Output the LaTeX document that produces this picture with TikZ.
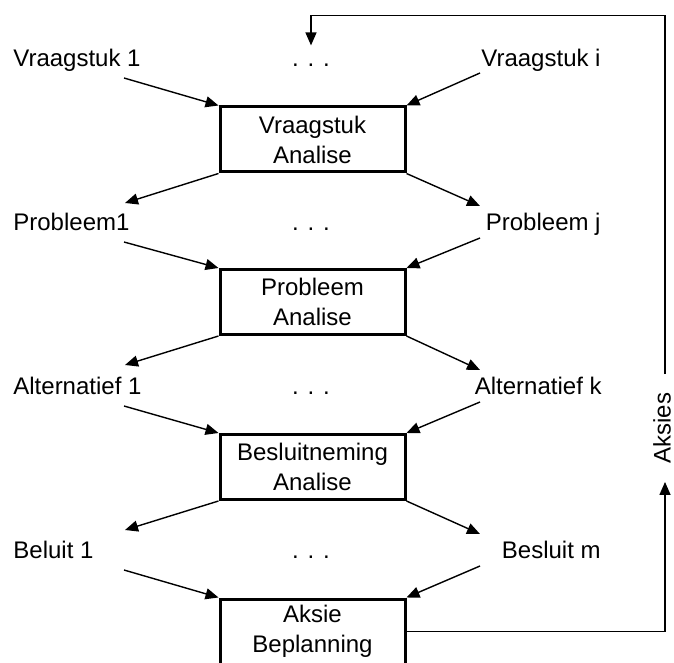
\documentclass[tikz,border=0pt]{standalone}
\usepackage{fontspec}
\setmainfont{Liberation Sans}
\usepackage{tikz}
\usetikzlibrary{arrows.meta, positioning, calc}
\tikzset{
  stage/.style={rectangle, draw=black, fill=white, line width=1.5pt,
    minimum width=92.5pt, minimum height=32.5pt, align=center,
    inner sep=0pt, font=\fontsize{12}{15}\selectfont},
  lbl/.style={inner sep=0pt, text height=8.6pt, text depth=2.5pt,
    font=\fontsize{12}{15}\selectfont},
  arrow/.style={-{Triangle[length=6.5pt,width=5.5pt]}, line width=0.7pt, color=black}
}

\begin{document}
\begin{tikzpicture}[x=0.5pt, y=-0.5pt]
  \useasboundingbox (0,0) rectangle (674,663);

  % Analysis boxes
  \node[stage] (b1) at (312.5,139.5) {Vraagstuk\\Analise};
  \node[stage] (b2) at (312.5,302) {Probleem\\Analise};
  \node[stage] (b3) at (312.5,467) {Besluitneming\\Analise};
  \node[stage] (b4) at (312.5,631.5) {Aksie\\Beplanning};

  % Labels left, middle, right
  \node[lbl, anchor=base west] (v1) at (13,67) {Vraagstuk 1};
  \node[lbl, anchor=base] (d1) at (311,67) {. . .};
  \node[lbl, anchor=base east] (vi) at (601,67) {Vraagstuk i};
  \node[lbl, anchor=base west] (p1) at (13,231) {Probleem1};
  \node[lbl, anchor=base] (d2) at (311,231) {. . .};
  \node[lbl, anchor=base east] (pj) at (601,231) {Probleem j};
  \node[lbl, anchor=base west] (a1) at (13,394) {Alternatief 1};
  \node[lbl, anchor=base] (d3) at (311,394) {. . .};
  \node[lbl, anchor=base east] (ak) at (602,394) {Alternatief k};
  \node[lbl, anchor=base west] (s1) at (13,558) {Beluit 1};
  \node[lbl, anchor=base] (d4) at (311,558) {. . .};
  \node[lbl, anchor=base east] (sm) at (601,558) {Besluit m};

  % Arrow ends near the labels
  \coordinate (v1o) at (124,78);   \coordinate (vio) at (480,73);
  \coordinate (p1i) at (125,203);  \coordinate (pji) at (480,206);
  \coordinate (p1o) at (124,242);  \coordinate (pjo) at (480,238);
  \coordinate (a1i) at (125,365);  \coordinate (aki) at (480,370);
  \coordinate (a1o) at (124,406);  \coordinate (ako) at (480,402);
  \coordinate (s1i) at (125,530);  \coordinate (smi) at (480,534);
  \coordinate (s1o) at (124,570);  \coordinate (smo) at (480,566);

  % Into the boxes
  \draw[arrow] (v1o) -- (b1.north west);
  \draw[arrow] (vio) -- (b1.north east);
  \draw[arrow] (p1o) -- (b2.north west);
  \draw[arrow] (pjo) -- (b2.north east);
  \draw[arrow] (a1o) -- (b3.north west);
  \draw[arrow] (ako) -- (b3.north east);
  \draw[arrow] (s1o) -- (b4.north west);
  \draw[arrow] (smo) -- (b4.north east);

  % Out of the boxes
  \draw[arrow] (b1.south west) -- (p1i);
  \draw[arrow] (b1.south east) -- (pji);
  \draw[arrow] (b2.south west) -- (a1i);
  \draw[arrow] (b2.south east) -- (aki);
  \draw[arrow] (b3.south west) -- (s1i);
  \draw[arrow] (b3.south east) -- (smi);

  % Feedback loop
  \node[lbl, rotate=90, inner xsep=9.1pt, inner ysep=0pt, text depth=0pt] (aksies) at (662,428) {Aksies};
  \path (d1.north) ++(0,-34) coordinate (fbtop);
  \draw[arrow] (b4.east) -| ([xshift=1.5pt]aksies.west);
  \draw[arrow, shorten >=2pt] ([xshift=1.5pt]aksies.east) |- (fbtop) -- (d1.north);
\end{tikzpicture}
\end{document}
